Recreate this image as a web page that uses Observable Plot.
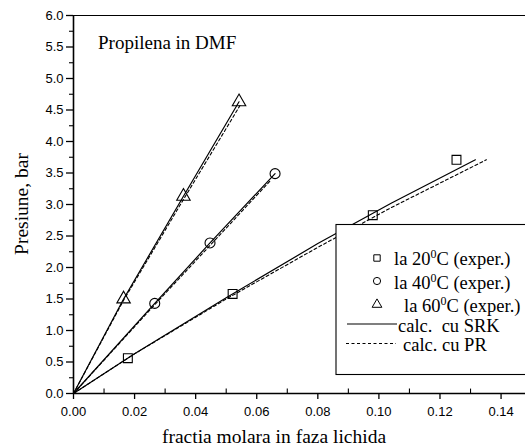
<!DOCTYPE html>
<html><head><meta charset="utf-8">
<script src="https://cdn.jsdelivr.net/npm/d3@7"></script>
<script src="https://cdn.jsdelivr.net/npm/@observablehq/plot@0.6"></script>
<style>body{margin:0;background:#fff}</style>
</head><body><div id="chart"></div>
<script>
// Experimental points
const x20 = [0.0178, 0.0521, 0.098, 0.1254];
const p20 = [0.56, 1.58, 2.83, 3.71];
const x40 = [0.0266, 0.0447, 0.066];
const p40 = [1.43, 2.39, 3.49];
const x60 = [0.0164, 0.036, 0.0542];
const p60 = [1.50, 3.13, 4.63];
// Calculated curves (SRK solid, PR dashed)
const srk20x = [0, 0.02, 0.05, 0.08, 0.104, 0.1316];
const srk20y = [0, 0.63, 1.52, 2.38, 3.02, 3.71];
const pr20x = [0, 0.02, 0.05, 0.08, 0.104, 0.1352];
const pr20y = [0, 0.63, 1.50, 2.32, 2.95, 3.71];
const srk40x = [0, 0.0266, 0.0447, 0.066];
const srk40y = [0, 1.43, 2.39, 3.49];
const pr40x = [0, 0.0266, 0.0447, 0.0645];
const pr40y = [0, 1.41, 2.35, 3.38];
const srk60x = [0, 0.0164, 0.036, 0.0542];
const srk60y = [0, 1.50, 3.13, 4.63];
const pr60x = [0, 0.0164, 0.036, 0.0545];
const pr60y = [0, 1.48, 3.08, 4.57];
// Ticks
const yTicks = [0, 0.5, 1, 1.5, 2, 2.5, 3, 3.5, 4, 4.5, 5, 5.5, 6];
const yMinor = [0.25, 0.75, 1.25, 1.75, 2.25, 2.75, 3.25, 3.75, 4.25, 4.75, 5.25, 5.75];
const xTicks = [0, 0.02, 0.04, 0.06, 0.08, 0.1, 0.12, 0.14];
const xMinor = [0.01, 0.03, 0.05, 0.07, 0.09, 0.11, 0.13];
const legendLabels = ["la 20", "la 40", "la 60"];
const titleText = "Propilena in DMF";
const xTitle = "fractia molara in faza lichida";
const yTitle = "Presiune, bar";

const tbl = (xs, ys) => xs.map((x, i) => ({x, y: ys[i]}));
const serif = "'Liberation Serif', 'Times New Roman', serif";

const chart = Plot.plot({
  width: 525, height: 448,
  marginLeft: 73, marginRight: 0, marginTop: 15, marginBottom: 55,
  x: {domain: [0, 0.148]},
  y: {domain: [0, 6]},
  style: {fontFamily: "'Liberation Sans', Arial, sans-serif", fontSize: "13px", color: "black", background: "white"},
  marks: [
    Plot.axisY({ticks: yTicks, tickSize: 7, tickPadding: 3, tickFormat: d => d.toFixed(1), label: null, fontSize: 13, strokeWidth: 1.3}),
    Plot.axisY({ticks: yMinor, tickSize: 4, tickFormat: null, text: null, label: null, strokeWidth: 1.1}),
    Plot.axisX({ticks: xTicks, tickSize: 6, tickPadding: 7, tickFormat: d => d.toFixed(2), label: null, fontSize: 13, strokeWidth: 1.3}),
    Plot.ruleX(xMinor, {y1: 0, y2: 0.07, stroke: "black", strokeWidth: 1.1}),
    Plot.line(tbl(srk20x, srk20y), {x: "x", y: "y", stroke: "black", strokeWidth: 1.2}),
    Plot.line(tbl(pr20x, pr20y), {x: "x", y: "y", stroke: "black", strokeWidth: 1.1, strokeDasharray: "3,2.5"}),
    Plot.line(tbl(srk40x, srk40y), {x: "x", y: "y", stroke: "black", strokeWidth: 1.2}),
    Plot.line(tbl(pr40x, pr40y), {x: "x", y: "y", stroke: "black", strokeWidth: 1.1, strokeDasharray: "3,2.5"}),
    Plot.line(tbl(srk60x, srk60y), {x: "x", y: "y", stroke: "black", strokeWidth: 1.2}),
    Plot.line(tbl(pr60x, pr60y), {x: "x", y: "y", stroke: "black", strokeWidth: 1.1, strokeDasharray: "3,2.5"}),
    Plot.dot(tbl(x20, p20), {x: "x", y: "y", symbol: "square", r: 5, stroke: "black", fill: "none", strokeWidth: 1.1}),
    Plot.dot(tbl(x40, p40), {x: "x", y: "y", symbol: "circle", r: 5, stroke: "black", fill: "none", strokeWidth: 1.1}),
    Plot.dot(tbl(x60, p60), {x: "x", y: "y", symbol: "triangle", r: 5, stroke: "black", fill: "none", strokeWidth: 1.1}),
    Plot.ruleX([0], {stroke: "black", strokeWidth: 1.6}),
    Plot.ruleY([0], {stroke: "black", strokeWidth: 1.6}),
    Plot.ruleY([6], {stroke: "black", strokeWidth: 1.2})
  ]
});
document.getElementById("chart").appendChild(chart);

const svg = d3.select(chart);
const addText = (sel, x, y, size, anchor) => sel.append("text").attr("x", x).attr("y", y)
  .attr("font-family", serif).attr("font-size", size).attr("fill", "black")
  .attr("text-anchor", anchor).style("white-space", "pre");
// Title inside plot
addText(svg, 98, 49, 19, "start").text(titleText);
// Axis titles
addText(svg, 274, 443, 19.5, "middle").text(xTitle);
svg.append("text").attr("transform", "translate(28,204) rotate(-90)").attr("text-anchor", "middle")
  .attr("font-family", serif).attr("font-size", 19.5).attr("fill", "black").text(yTitle);

// Legend
const lg = svg.append("g");
lg.append("rect").attr("x", 336).attr("y", 224.5).attr("width", 200).attr("height", 150)
  .attr("fill", "white").attr("stroke", "black").attr("stroke-width", 1.1);
const syms = [d3.symbolSquare, d3.symbolCircle, d3.symbolTriangle];
const symY = [258, 281, 304.5];
const txtX = [394, 394, 404];
const baseY = [265, 288.5, 312];
syms.forEach((s, i) => {
  lg.append("path").attr("d", d3.symbol().type(s).size(Math.PI * 3.6 * 3.6)())
    .attr("transform", `translate(377,${symY[i]})`)
    .attr("fill", "none").attr("stroke", "black").attr("stroke-width", 1);
  const t = addText(lg, txtX[i], baseY[i], 18.5, "start");
  t.append("tspan").text(legendLabels[i]);
  t.append("tspan").attr("dy", -7).attr("font-size", 12).text("0");
  t.append("tspan").attr("dy", 7).text("C (exper.)");
});
lg.append("line").attr("x1", 347).attr("x2", 397).attr("y1", 324).attr("y2", 324)
  .attr("stroke", "black").attr("stroke-width", 1.2);
addText(lg, 398, 331.5, 18.5, "start").text("calc.  cu SRK");
lg.append("line").attr("x1", 346).attr("x2", 396).attr("y1", 343.5).attr("y2", 343.5)
  .attr("stroke", "black").attr("stroke-width", 1.1).attr("stroke-dasharray", "3,2.5");
addText(lg, 403, 351, 18.5, "start").text("calc. cu PR");
</script></body></html>
